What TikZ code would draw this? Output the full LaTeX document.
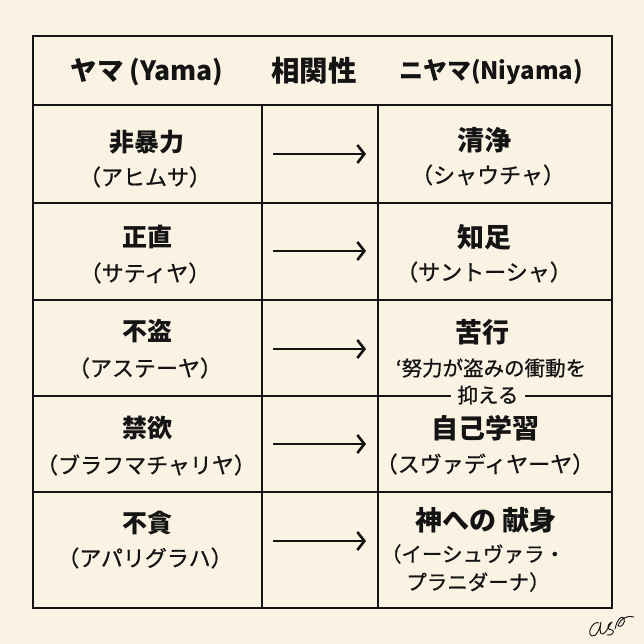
\documentclass[tikz,border=0pt]{standalone}
\usepackage{fontspec}
\setmainfont{Noto Sans CJK JP}
\newfontfamily\medfont{Noto Sans CJK JP}[FakeBold=0.8]
\usetikzlibrary{arrows.meta}
\definecolor{bg}{HTML}{FAF3E4}
\definecolor{ink}{HTML}{141414}
\begin{document}
\begin{tikzpicture}[x=1pt,y=-1pt,
  hdr/.style={font=\fontsize{26.5}{26.5}\selectfont\bfseries, text=ink, inner sep=0pt},
  ttl/.style={font=\fontsize{25}{25}\selectfont\bfseries, text=ink, inner sep=0pt},
  rttl/.style={font=\fontsize{27}{27}\selectfont\bfseries, text=ink, inner sep=0pt},
  sub/.style={font=\fontsize{22}{22}\selectfont\medfont, text=ink, inner sep=0pt},
  note/.style={font=\fontsize{20.5}{20.5}\selectfont\medfont, text=ink, inner sep=0pt},
  gridline/.style={line width=2.6pt, draw=ink},
  arr/.style={line width=2.6pt, draw=ink, -{Straight Barb[length=7pt,width=18pt,line width=2.6pt]}},
  sig/.style={line width=0.9pt, draw=ink, line cap=round, line join=round}]
\fill[bg] (0,0) rectangle (644,644);
\useasboundingbox (0,0) rectangle (644,644);
% table grid
\draw[gridline] (33,36) rectangle (612,608);
\foreach \yy in {105,203,300,396,492} \draw[gridline] (33,\yy) -- (612,\yy);
\draw[gridline] (262,105) -- (262,608);
\draw[gridline] (378,105) -- (378,608);
% header
\node[hdr] (h1) at (147,72) {ヤマ (Yama)};
\node[hdr, font=\fontsize{28.5}{28.5}\selectfont\bfseries] (h2) at (314,71) {相関性};
\node[hdr, font=\fontsize{24}{24}\selectfont\bfseries] (h3) at (491,72) {ニヤマ(Niyama)};
% left column
\node[ttl] (y1) at (147,142) {非暴力};
\node[sub] (y1s) at (145,177) {（アヒムサ）};
\node[ttl] (y2) at (147,237) {正直};
\node[sub] (y2s) at (145,273) {（サティヤ）};
\node[ttl] (y3) at (147,331) {不盗};
\node[sub] (y3s) at (145,368) {（アステーヤ）};
\node[ttl] (y4) at (147,428) {禁欲};
\node[sub] (y4s) at (146,465) {（ブラフマチャリヤ）};
\node[ttl] (y5) at (147,523) {不貪};
\node[sub] (y5s) at (145,558) {（アパリグラハ）};
% right column
\node[rttl] (n1) at (484,140) {清浄};
\node[sub] (n1s) at (488,175) {（シャウチャ）};
\node[rttl] (n2) at (484,237) {知足};
\node[sub] (n2s) at (484,272) {（サントーシャ）};
\node[rttl] (n3) at (482,332) {苦行};
\node[note] (n3s) at (491,368) {‘努力が盗みの衝動を};
\node[note, fill=bg, inner xsep=7pt, inner ysep=1pt] (n3t) at (488,395) {抑える};
\node[rttl] (n4) at (485,428) {自己学習};
\node[sub] (n4s) at (485,464) {（スヴァディヤーヤ）};
\node[rttl] (n5) at (486,520) {神への 献身};
\node[note] (n5s) at (473,554) {（イーシュヴァラ・};
\node[note] (n5t) at (478,582) {プラニダーナ）};
% arrows
\foreach \i/\yy in {1/154,2/251,3/349,4/444,5/541}{
  \coordinate (as\i) at (273,\yy);
  \coordinate (ae\i) at (366,\yy);
  \draw[arr] (as\i) -- (ae\i);
}
% signature
\draw[sig] (599,623) .. controls (593,620) and (586,634) .. (592,636)
  .. controls (597,637) and (600,628) .. (601,622)
  .. controls (600,628) and (599,635) .. (603,634)
  .. controls (607,632) and (609,625) .. (612,622)
  .. controls (606,625) and (607,630) .. (612,630)
  .. controls (615,631) and (613,636) .. (607,635);
\draw[sig] (615,629) .. controls (617,620) and (621,615) .. (624,618)
  .. controls (626,623) and (621,628) .. (618,626)
  .. controls (620,619) and (626,615) .. (634,617);
\end{tikzpicture}
\end{document}
